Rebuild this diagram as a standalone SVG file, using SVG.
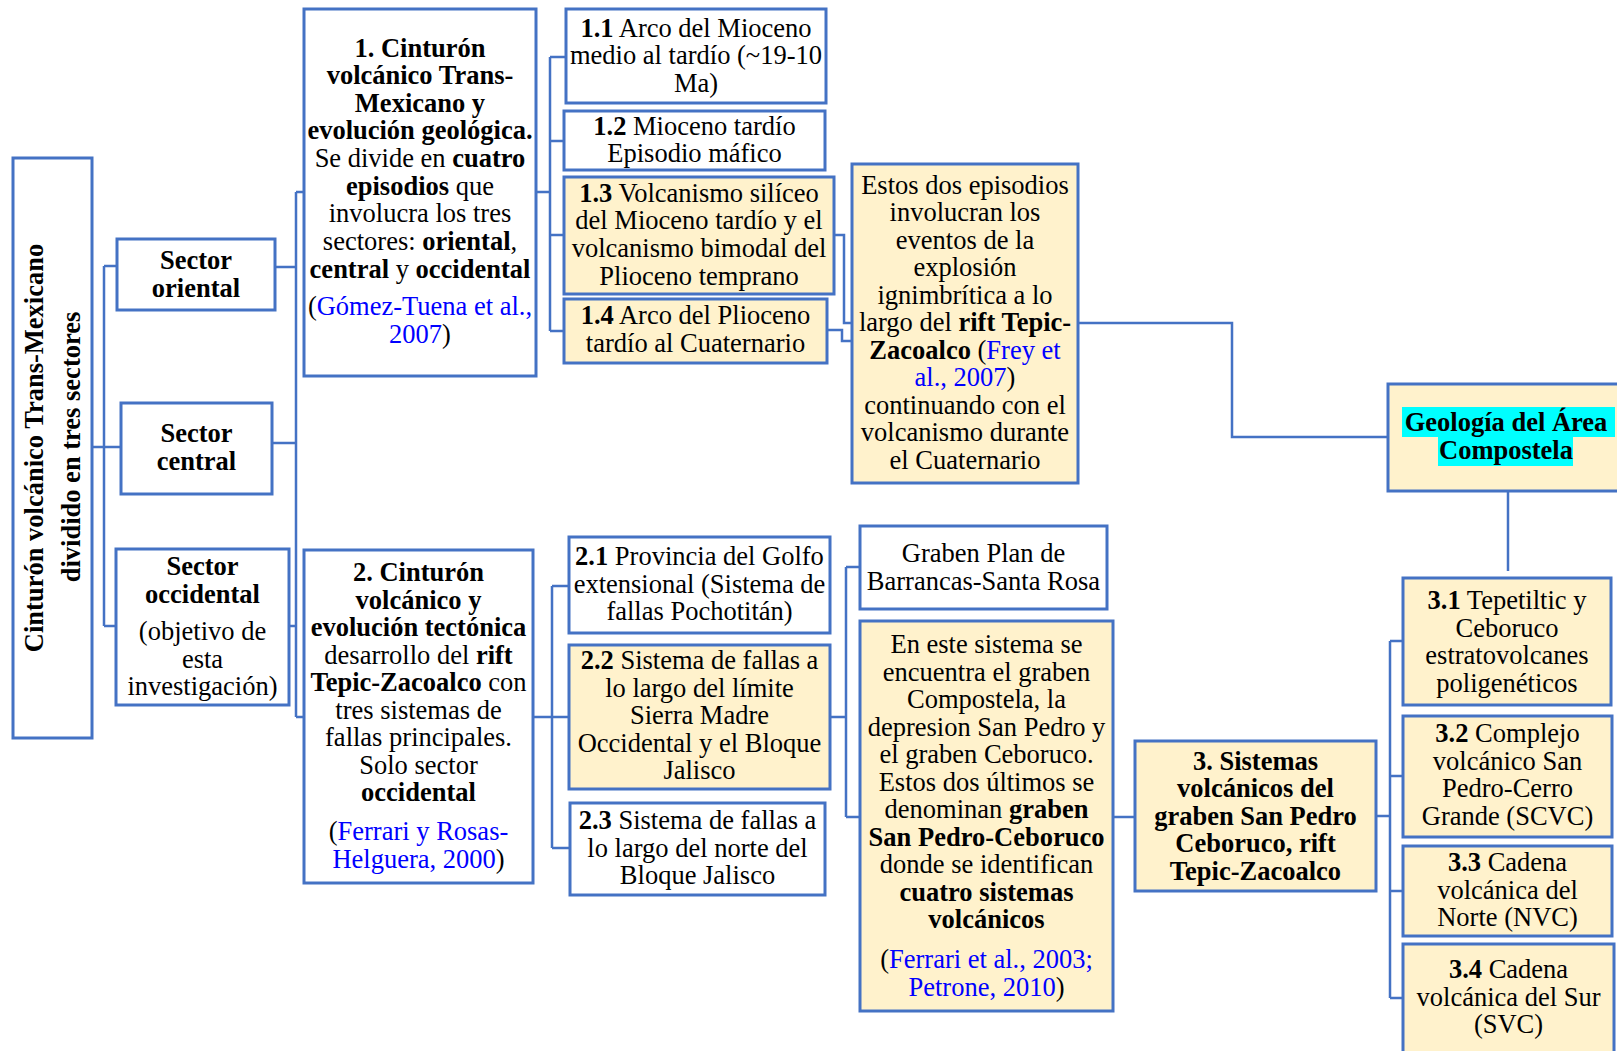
<svg xmlns="http://www.w3.org/2000/svg" width="1617" height="1051" viewBox="0 0 1617 1051">
<style>
.w{fill:#FFFFFF;stroke:#4472C4;stroke-width:3}
.y{fill:#FFF2CC;stroke:#4472C4;stroke-width:3}
.c{fill:none;stroke:#4472C4;stroke-width:2.5}
text{font-family:"Liberation Serif","Times New Roman",serif;font-size:26.5px;text-anchor:middle;fill:#000}
.bd{font-weight:bold}
.l{fill:#0000FF}
.hl{fill:#00FFFF}
</style>
<rect width="1617" height="1051" fill="#FFFFFF"/>
<g id="connectors">
<path class="c" d="M92 447H104M104 266V626M104 266H117M104 447H121M104 626H116"/>
<path class="c" d="M275 267H296M272 443H296M289 626H296M296 192V717M296 192H304M296 717H304"/>
<path class="c" d="M536 192H550M550 57V331M550 57H566M550 141H564M550 235H564M550 331H564"/>
<path class="c" d="M834 235H844V323H852M827 330H842V341H852"/>
<path class="c" d="M1078 323H1232V437H1388"/>
<path class="c" d="M1508 491V571"/>
<path class="c" d="M533 717H552M552 586V848M552 586H569M552 717H569M552 848H570"/>
<path class="c" d="M830 717H846M846 567V817M846 567H860M846 817H860"/>
<path class="c" d="M1113 817H1135"/>
<path class="c" d="M1376 816H1390M1390 641V998M1390 641H1403M1390 776H1403M1390 891H1403M1390 998H1403"/>
</g>
<g id="main">
<rect class="w" x="13" y="158" width="79" height="580"/>
<text class="bd" transform="translate(43 448) rotate(-90)">Cinturón volcánico Trans-Mexicano</text>
<text class="bd" transform="translate(80 447) rotate(-90)">dividido en tres sectores</text>
</g>
<g id="sector-oriental">
<rect class="w" x="117" y="239" width="158" height="71"/>
<text class="bd" x="196" y="269">Sector</text>
<text class="bd" x="196" y="297">oriental</text>
</g>
<g id="sector-central">
<rect class="w" x="121" y="403" width="151" height="91"/>
<text class="bd" x="196.5" y="442">Sector</text>
<text class="bd" x="196.5" y="470">central</text>
</g>
<g id="sector-occidental">
<rect class="w" x="116" y="549" width="173" height="156"/>
<text class="bd" x="202.5" y="575">Sector</text>
<text class="bd" x="202.5" y="602.5">occidental</text>
<text x="202.5" y="640">(objetivo de</text>
<text x="202.5" y="667.5">esta</text>
<text x="202.5" y="695">investigación)</text>
</g>
<g id="box1">
<rect class="w" x="304" y="9" width="232" height="367"/>
<text class="bd" x="420" y="56.5">1. Cinturón</text>
<text class="bd" x="420" y="84">volcánico Trans-</text>
<text class="bd" x="420" y="111.5">Mexicano y</text>
<text class="bd" x="420" y="139">evolución geológica.</text>
<text x="420" y="166.5">Se divide en <tspan class="bd">cuatro</tspan></text>
<text x="420" y="194.5"><tspan class="bd">episodios</tspan> que</text>
<text x="420" y="222">involucra los tres</text>
<text x="420" y="250">sectores: <tspan class="bd">oriental</tspan>,</text>
<text x="420" y="277.5"><tspan class="bd">central</tspan> y <tspan class="bd">occidental</tspan></text>
<text x="420" y="315">(<tspan class="l">Gómez-Tuena et al.,</tspan></text>
<text x="420" y="343"><tspan class="l">2007</tspan>)</text>
</g>
<g id="box1-1">
<rect class="w" x="566" y="9" width="260" height="94"/>
<text x="696" y="36.5"><tspan class="bd">1.1</tspan> Arco del Mioceno</text>
<text x="696" y="64">medio al tardío (~19-10</text>
<text x="696" y="91.5">Ma)</text>
</g>
<g id="box1-2">
<rect class="w" x="564" y="111" width="261" height="59"/>
<text x="694.5" y="134.5"><tspan class="bd">1.2</tspan> Mioceno tardío</text>
<text x="694.5" y="162">Episodio máfico</text>
</g>
<g id="box1-3">
<rect class="y" x="564" y="177" width="270" height="117"/>
<text x="699" y="201.5"><tspan class="bd">1.3</tspan> Volcanismo silíceo</text>
<text x="699" y="229">del Mioceno tardío y el</text>
<text x="699" y="257">volcanismo bimodal del</text>
<text x="699" y="284.5">Plioceno temprano</text>
</g>
<g id="box1-4">
<rect class="y" x="564" y="299" width="263" height="64"/>
<text x="695.5" y="324"><tspan class="bd">1.4</tspan> Arco del Plioceno</text>
<text x="695.5" y="351.5">tardío al Cuaternario</text>
</g>
<g id="estos">
<rect class="y" x="852" y="164" width="226" height="319"/>
<text x="965" y="193.5">Estos dos episodios</text>
<text x="965" y="221">involucran los</text>
<text x="965" y="248.5">eventos de la</text>
<text x="965" y="276">explosión</text>
<text x="965" y="303.5">ignimbrítica a lo</text>
<text x="965" y="331">largo del <tspan class="bd">rift Tepic-</tspan></text>
<text x="965" y="358.5"><tspan class="bd">Zacoalco</tspan> (<tspan class="l">Frey et</tspan></text>
<text x="965" y="386"><tspan class="l">al., 2007</tspan>)</text>
<text x="965" y="413.5">continuando con el</text>
<text x="965" y="441">volcanismo durante</text>
<text x="965" y="468.5">el Cuaternario</text>
</g>
<g id="geologia">
<rect class="y" x="1388" y="384" width="240" height="107"/>
<rect class="hl" x="1402" y="407" width="213" height="30"/>
<rect class="hl" x="1438" y="437" width="135" height="29"/>
<text class="bd" x="1506" y="431">Geología del Área</text>
<text class="bd" x="1506" y="458.5">Compostela</text>
</g>
<g id="box2">
<rect class="w" x="304" y="550" width="229" height="333"/>
<text class="bd" x="418.5" y="581">2. Cinturón</text>
<text class="bd" x="418.5" y="608.5">volcánico y</text>
<text class="bd" x="418.5" y="636">evolución tectónica</text>
<text x="418.5" y="663.5">desarrollo del <tspan class="bd">rift</tspan></text>
<text x="418.5" y="691"><tspan class="bd">Tepic-Zacoalco</tspan> con</text>
<text x="418.5" y="718.5">tres sistemas de</text>
<text x="418.5" y="746">fallas principales.</text>
<text x="418.5" y="773.5">Solo sector</text>
<text class="bd" x="418.5" y="801">occidental</text>
<text x="418.5" y="840">(<tspan class="l">Ferrari y Rosas-</tspan></text>
<text x="418.5" y="867.5"><tspan class="l">Helguera, 2000</tspan>)</text>
</g>
<g id="box2-1">
<rect class="w" x="569" y="537" width="261" height="96"/>
<text x="699.5" y="565"><tspan class="bd">2.1</tspan> Provincia del Golfo</text>
<text x="699.5" y="592.5">extensional (Sistema de</text>
<text x="699.5" y="620">fallas Pochotitán)</text>
</g>
<g id="box2-2">
<rect class="y" x="569" y="645" width="261" height="144"/>
<text x="699.5" y="669"><tspan class="bd">2.2</tspan> Sistema de fallas a</text>
<text x="699.5" y="696.5">lo largo del límite</text>
<text x="699.5" y="724">Sierra Madre</text>
<text x="699.5" y="751.5">Occidental y el Bloque</text>
<text x="699.5" y="779">Jalisco</text>
</g>
<g id="box2-3">
<rect class="w" x="570" y="803" width="255" height="92"/>
<text x="697.5" y="829"><tspan class="bd">2.3</tspan> Sistema de fallas a</text>
<text x="697.5" y="856.5">lo largo del norte del</text>
<text x="697.5" y="884">Bloque Jalisco</text>
</g>
<g id="graben-plan">
<rect class="w" x="860" y="526" width="247" height="83"/>
<text x="983.5" y="562">Graben Plan de</text>
<text x="983.5" y="589.5">Barrancas-Santa Rosa</text>
</g>
<g id="en-este">
<rect class="y" x="860" y="621" width="253" height="390"/>
<text x="986.5" y="653">En este sistema se</text>
<text x="986.5" y="680.5">encuentra el graben</text>
<text x="986.5" y="708">Compostela, la</text>
<text x="986.5" y="735.5">depresion San Pedro y</text>
<text x="986.5" y="763">el graben Ceboruco.</text>
<text x="986.5" y="790.5">Estos dos últimos se</text>
<text x="986.5" y="818">denominan <tspan class="bd">graben</tspan></text>
<text class="bd" x="986.5" y="845.5">San Pedro-Ceboruco</text>
<text x="986.5" y="873">donde se identifican</text>
<text class="bd" x="986.5" y="900.5">cuatro sistemas</text>
<text class="bd" x="986.5" y="928">volcánicos</text>
<text x="986.5" y="968">(<tspan class="l">Ferrari et al., 2003;</tspan></text>
<text x="986.5" y="995.5"><tspan class="l">Petrone, 2010</tspan>)</text>
</g>
<g id="box3">
<rect class="y" x="1135" y="741" width="241" height="150"/>
<text class="bd" x="1255.5" y="769.5">3. Sistemas</text>
<text class="bd" x="1255.5" y="797">volcánicos del</text>
<text class="bd" x="1255.5" y="824.5">graben San Pedro</text>
<text class="bd" x="1255.5" y="852">Ceboruco, rift</text>
<text class="bd" x="1255.5" y="879.5">Tepic-Zacoalco</text>
</g>
<g id="box3-1">
<rect class="y" x="1403" y="578" width="208" height="127"/>
<text x="1507" y="609"><tspan class="bd">3.1</tspan> Tepetiltic y</text>
<text x="1507" y="636.5">Ceboruco</text>
<text x="1507" y="664">estratovolcanes</text>
<text x="1507" y="691.5">poligenéticos</text>
</g>
<g id="box3-2">
<rect class="y" x="1403" y="716" width="209" height="121"/>
<text x="1507.5" y="742"><tspan class="bd">3.2</tspan> Complejo</text>
<text x="1507.5" y="769.5">volcánico San</text>
<text x="1507.5" y="797">Pedro-Cerro</text>
<text x="1507.5" y="824.5">Grande (SCVC)</text>
</g>
<g id="box3-3">
<rect class="y" x="1403" y="846" width="209" height="90"/>
<text x="1507.5" y="871"><tspan class="bd">3.3</tspan> Cadena</text>
<text x="1507.5" y="898.5">volcánica del</text>
<text x="1507.5" y="926">Norte (NVC)</text>
</g>
<g id="box3-4">
<rect class="y" x="1403" y="944" width="211" height="120"/>
<text x="1508.5" y="978"><tspan class="bd">3.4</tspan> Cadena</text>
<text x="1508.5" y="1005.5">volcánica del Sur</text>
<text x="1508.5" y="1033">(SVC)</text>
</g>
</svg>
